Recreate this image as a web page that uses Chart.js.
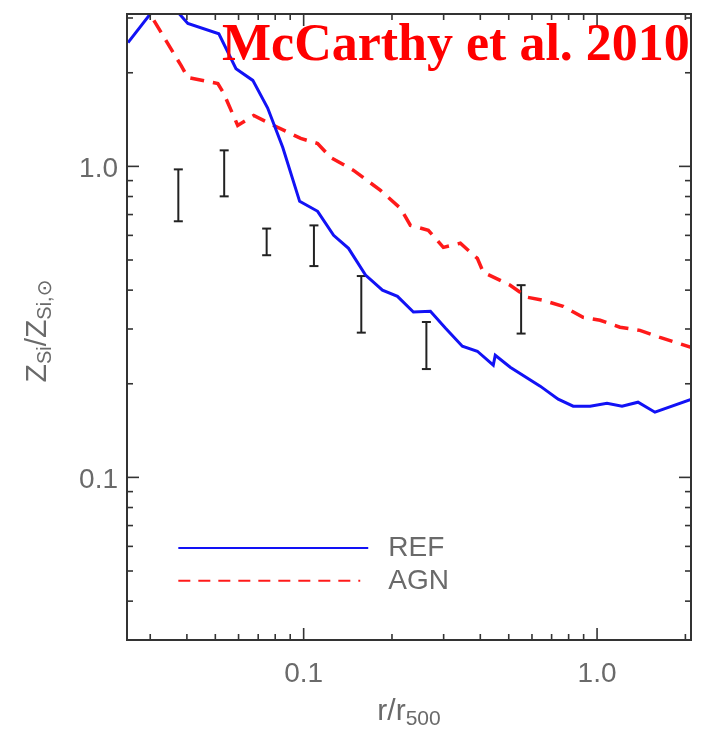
<!DOCTYPE html>
<html>
<head>
<meta charset="utf-8">
<script src="https://cdn.jsdelivr.net/npm/chart.js@4/dist/chart.umd.min.js"></script>
<style>
  html, body { margin: 0; padding: 0; background: #fff; }
</style>
</head>
<body>
<canvas id="c" width="720" height="729"></canvas>
<script>
// REF run (blue solid)
const refR = [0.0252, 0.0334, 0.0403, 0.0514, 0.0588, 0.0671, 0.0754, 0.0849, 0.0969, 0.1116, 0.1265, 0.1422, 0.1625, 0.1856, 0.2088, 0.2366, 0.2704, 0.304, 0.3474, 0.3908, 0.4428, 0.4498, 0.5058, 0.640, 0.737, 0.829, 0.947, 1.081, 1.216, 1.379, 1.575, 2.09];
const refZ = [2.50, 3.52, 2.88, 2.67, 2.06, 1.89, 1.54, 1.15, 0.772, 0.717, 0.600, 0.545, 0.447, 0.400, 0.382, 0.340, 0.342, 0.302, 0.264, 0.2545, 0.2295, 0.247, 0.226, 0.1965, 0.1784, 0.1694, 0.1694, 0.1732, 0.1694, 0.1745, 0.162, 0.178];

// AGN run (red dashed)
const agnR = [0.0281, 0.0309, 0.0382, 0.0403, 0.0510, 0.0534, 0.0596, 0.0676, 0.0791, 0.0977, 0.1116, 0.1235, 0.148, 0.1828, 0.2138, 0.2312, 0.266, 0.2993, 0.342, 0.3908, 0.4096, 0.5058, 0.578, 0.655, 0.766, 0.896, 1.024, 1.197, 1.40, 1.638, 2.09];
const agnZ = [3.41, 2.944, 2.111, 1.932, 1.847, 1.716, 1.354, 1.458, 1.354, 1.230, 1.185, 1.069, 0.971, 0.837, 0.733, 0.646, 0.623, 0.549, 0.566, 0.506, 0.4565, 0.4148, 0.3796, 0.371, 0.355, 0.327, 0.320, 0.304, 0.297, 0.282, 0.262];

// observed profile, error bars only
const obsR  = [0.0374, 0.0536, 0.0748, 0.1084, 0.1572, 0.262, 0.551];
const obsLo = [0.666, 0.801, 0.518, 0.478, 0.292, 0.223, 0.290];
const obsHi = [0.978, 1.126, 0.631, 0.646, 0.444, 0.316, 0.415];

// axes
const xMin = 0.025, xMax = 2.09;
const yMin = 0.03, yMax = 3.09;
const xMajor = [0.1, 1.0];
const xMajorLabels = ['0.1', '1.0'];
const xMinor = [0.03, 0.04, 0.05, 0.06, 0.07, 0.08, 0.09, 0.2, 0.3, 0.4, 0.5, 0.6, 0.7, 0.8, 0.9, 2];
const yMajor = [0.1, 1.0];
const yMajorLabels = ['0.1', '1.0'];
const yMinor = [0.04, 0.05, 0.06, 0.07, 0.08, 0.09, 0.2, 0.3, 0.4, 0.5, 0.6, 0.7, 0.8, 0.9, 2, 3];

const legendNames = ['REF', 'AGN'];
const titleText = 'McCarthy et al. 2010';

const BLUE = '#1212f5';
const RED = '#ff1a1a';
const INK = '#333';
const GREY = '#6a6a6a';
const SANS = '"Liberation Sans", Arial, sans-serif';

const pts = (xs, ys) => xs.map((v, i) => ({ x: v, y: ys[i] }));

const datasets = [
    { data: pts(refR, refZ), borderColor: BLUE, borderWidth: 3, pointRadius: 0, tension: 0, clip: 0 },
    { data: pts(agnR, agnZ), borderColor: RED, borderWidth: 3.5, borderDash: [14, 9], pointRadius: 0, tension: 0, clip: 0 }
];
// each error bar is a two point segment with flat caps
obsR.forEach((r, i) => {
    datasets.push({
        data: [{ x: r, y: obsLo[i] }, { x: r, y: obsHi[i] }],
        borderColor: '#222', borderWidth: 2,
        pointStyle: 'line', pointRadius: 4.5, pointBorderWidth: 2, pointBorderColor: '#222',
        tension: 0
    });
});

// draw "main" + subscript pieces along a baseline
function richText(ctx, parts, x, y, align) {
    let w = 0;
    parts.forEach(p => { ctx.font = p.font; w += ctx.measureText(p.t).width; });
    let cx = align === 'center' ? x - w / 2 : x;
    parts.forEach(p => {
        ctx.font = p.font;
        ctx.fillText(p.t, cx, y + (p.dy || 0));
        cx += ctx.measureText(p.t).width;
    });
}

const frame = {
    id: 'frame',
    afterDatasetsDraw(chart) {
        const { ctx, chartArea: a, scales: { x, y } } = chart;
        ctx.save();

        // box
        ctx.strokeStyle = INK;
        ctx.lineWidth = 2;
        ctx.strokeRect(a.left, a.top, a.right - a.left, a.bottom - a.top);

        // inward ticks on all four sides
        ctx.lineWidth = 1.6;
        const seg = (x1, y1, x2, y2) => { ctx.beginPath(); ctx.moveTo(x1, y1); ctx.lineTo(x2, y2); ctx.stroke(); };
        const xt = (v, len) => { const p = x.getPixelForValue(v); seg(p, a.bottom, p, a.bottom - len); seg(p, a.top, p, a.top + len); };
        const yt = (v, len) => { const p = y.getPixelForValue(v); seg(a.left, p, a.left + len, p); seg(a.right, p, a.right - len, p); };
        xMajor.forEach(v => xt(v, 12));
        xMinor.forEach(v => xt(v, 6));
        yMajor.forEach(v => yt(v, 12));
        yMinor.forEach(v => yt(v, 6));

        // tick labels
        ctx.fillStyle = GREY;
        ctx.font = '28px ' + SANS;
        ctx.textAlign = 'center';
        ctx.textBaseline = 'alphabetic';
        xMajor.forEach((v, i) => ctx.fillText(xMajorLabels[i], x.getPixelForValue(v), a.bottom + 42));
        ctx.textAlign = 'right';
        ctx.textBaseline = 'middle';
        yMajor.forEach((v, i) => ctx.fillText(yMajorLabels[i], a.left - 9, y.getPixelForValue(v) + 3));

        // axis titles
        ctx.textAlign = 'left';
        ctx.textBaseline = 'alphabetic';
        richText(ctx, [
            { t: 'r/r', font: '30px ' + SANS },
            { t: '500', font: '21px ' + SANS, dy: 5 }
        ], (a.left + a.right) / 2, a.bottom + 80, 'center');

        ctx.save();
        ctx.translate(46, (a.top + a.bottom) / 2 + 4);
        ctx.rotate(-Math.PI / 2);
        richText(ctx, [
            { t: 'Z', font: '30px ' + SANS },
            { t: 'Si', font: '20px ' + SANS, dy: 5 },
            { t: '/Z', font: '30px ' + SANS },
            { t: 'Si,\u2299', font: '20px ' + SANS + ', "DejaVu Sans"', dy: 5 }
        ], 0, 0, 'center');
        ctx.restore();

        // legend
        const lx0 = x.getPixelForValue(0.0374), lx1 = x.getPixelForValue(0.166);
        const ly0 = y.getPixelForValue(0.0593), ly1 = y.getPixelForValue(0.0465);
        ctx.lineWidth = 2;
        ctx.strokeStyle = BLUE;
        seg(lx0, ly0, lx1, ly0);
        ctx.strokeStyle = RED;
        ctx.setLineDash([12, 8]);
        seg(lx0, ly1, lx1 - 8, ly1);
        ctx.setLineDash([]);
        ctx.fillStyle = GREY;
        ctx.font = '28px ' + SANS;
        ctx.textBaseline = 'middle';
        ctx.fillText(legendNames[0], lx1 + 20, ly0);
        ctx.fillText(legendNames[1], lx1 + 20, ly1);

        // title
        ctx.fillStyle = '#ff0000';
        ctx.font = 'bold 52px "Liberation Serif", "Times New Roman", serif';
        ctx.textBaseline = 'alphabetic';
        ctx.textAlign = 'left';
        ctx.fillText(titleText, 222, 60);

        ctx.restore();
    }
};

new Chart(document.getElementById('c'), {
    type: 'line',
    data: { datasets },
    options: {
        responsive: false,
        animation: false,
        layout: { padding: { left: 127, right: 29, top: 14, bottom: 89 } },
        plugins: { legend: { display: false }, tooltip: { enabled: false } },
        scales: {
            x: { type: 'logarithmic', min: xMin, max: xMax, display: false },
            y: { type: 'logarithmic', min: yMin, max: yMax, display: false }
        }
    },
    plugins: [frame]
});
</script>
</body>
</html>
